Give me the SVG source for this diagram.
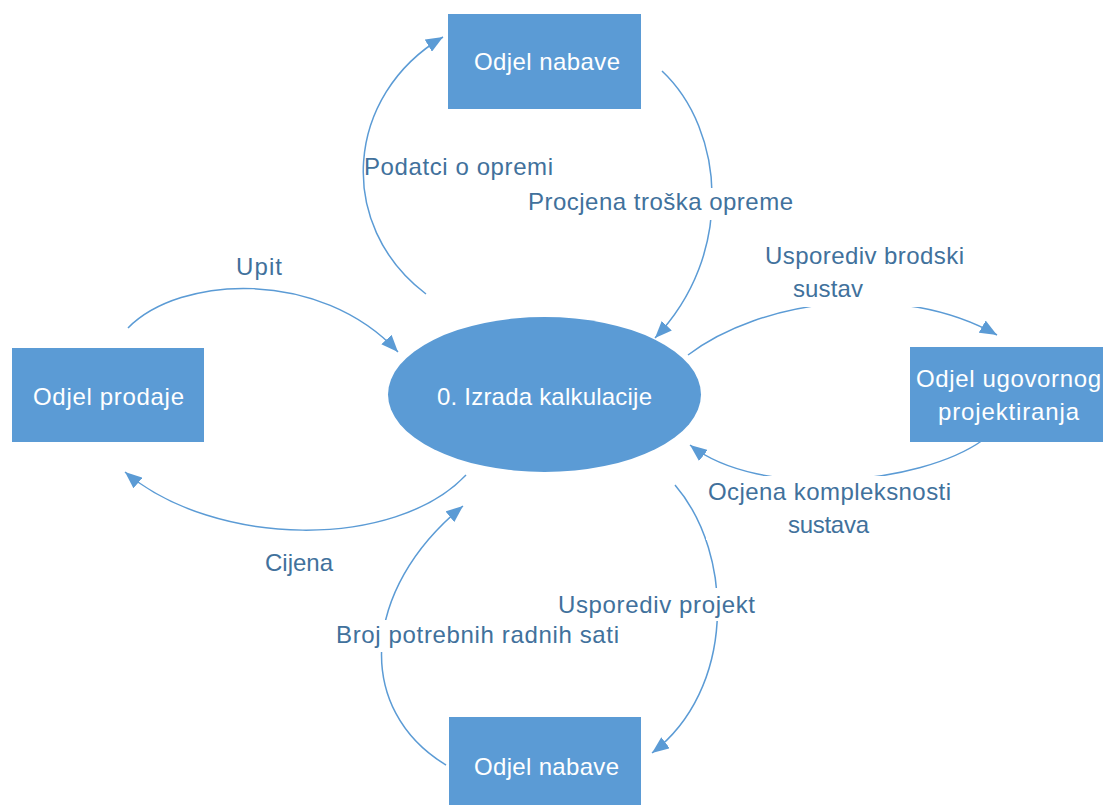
<svg xmlns="http://www.w3.org/2000/svg" width="1103" height="805" viewBox="0 0 1103 805">
<style>
.node{fill:#5B9BD5;}
.nt{font-family:"Liberation Sans",Arial,sans-serif;font-size:24px;fill:#FFFFFF;}
.lbl{font-family:"Liberation Sans",Arial,sans-serif;font-size:24px;fill:#41719C;}
.edge{fill:none;stroke:#5B9BD5;stroke-width:1.5;marker-end:url(#arr);}
.bg{fill:#FFFFFF;}
</style>
<defs>
<marker id="arr" markerUnits="userSpaceOnUse" markerWidth="18" markerHeight="14" refX="17" refY="7" orient="auto">
<path d="M0,0 L17,7 L0,14 z" fill="#5B9BD5"/>
</marker>
</defs>
<rect width="1103" height="805" fill="#FFFFFF"/>
<g id="connectors">
<path class="edge" d="M426,294 C335,225 345,95 443,37"/>
<path class="edge" d="M662,71 C725,130 735,255 655,338"/>
<path class="edge" d="M128,328 C180,275 320,268 398,352"/>
<path class="edge" d="M466,475 C395,550 215,548 125,472"/>
<path class="edge" d="M688,355 C760,300 900,280 997,335"/>
<path class="edge" d="M983,440 C920,485 760,500 690,445"/>
<path class="edge" d="M675,485 C735,555 735,690 652,753"/>
<path class="edge" d="M446,765 C355,710 360,590 463,506"/>
</g>
<g id="labels">
<rect class="bg" x="526" y="188" width="269" height="32"/>
<rect class="bg" x="762" y="242" width="204" height="65"/>
<rect class="bg" x="706" y="476" width="247" height="64"/>
<rect class="bg" x="556" y="588" width="201" height="33"/>
<rect class="bg" x="334" y="620" width="288" height="32"/>
<text class="lbl" x="364" y="175" textLength="189" lengthAdjust="spacing">Podatci o opremi</text>
<text class="lbl" x="528" y="210" textLength="265" lengthAdjust="spacing">Procjena troška opreme</text>
<text class="lbl" x="236" y="275" textLength="46" lengthAdjust="spacing">Upit</text>
<text class="lbl" x="265" y="571" textLength="68" lengthAdjust="spacing">Cijena</text>
<text class="lbl" x="765" y="264" textLength="199" lengthAdjust="spacing">Usporediv brodski</text>
<text class="lbl" x="793" y="297" textLength="70" lengthAdjust="spacing">sustav</text>
<text class="lbl" x="708" y="500" textLength="243" lengthAdjust="spacing">Ocjena kompleksnosti</text>
<text class="lbl" x="788" y="533" textLength="81" lengthAdjust="spacing">sustava</text>
<text class="lbl" x="558" y="613" textLength="197" lengthAdjust="spacing">Usporediv projekt</text>
<text class="lbl" x="336" y="643" textLength="283" lengthAdjust="spacing">Broj potrebnih radnih sati</text>
</g>
<g id="node-nabave-top">
<rect class="node" x="448" y="14" width="193" height="95"/>
<text class="nt" x="474" y="70" textLength="146" lengthAdjust="spacing">Odjel nabave</text>
</g>
<g id="node-prodaje">
<rect class="node" x="12" y="348" width="192" height="94"/>
<text class="nt" x="33" y="405" textLength="151" lengthAdjust="spacing">Odjel prodaje</text>
</g>
<g id="node-kalkulacija">
<ellipse class="node" cx="544.5" cy="394.5" rx="156.5" ry="77.5"/>
<text class="nt" x="437" y="405" textLength="215" lengthAdjust="spacing">0. Izrada kalkulacije</text>
</g>
<g id="node-ugovornog">
<rect class="node" x="910" y="347" width="193" height="95"/>
<text class="nt" x="916" y="387" textLength="185" lengthAdjust="spacing">Odjel ugovornog</text>
<text class="nt" x="938" y="420" textLength="141" lengthAdjust="spacing">projektiranja</text>
</g>
<g id="node-nabave-bottom">
<rect class="node" x="449" y="717" width="192" height="88"/>
<text class="nt" x="474" y="775" textLength="145" lengthAdjust="spacing">Odjel nabave</text>
</g>
</svg>
